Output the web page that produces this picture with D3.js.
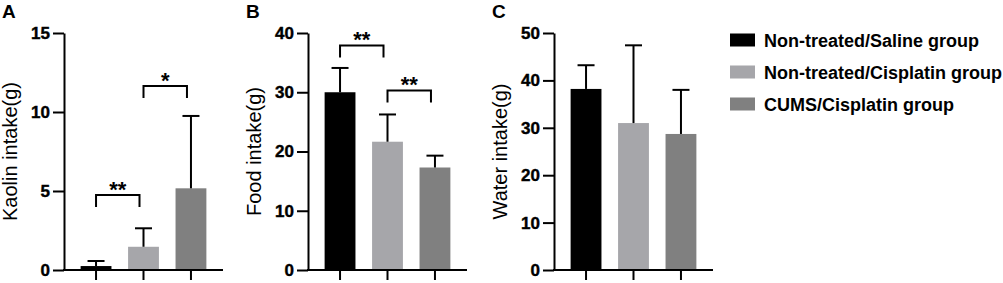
<!DOCTYPE html>
<html>
<head>
<meta charset="utf-8">
<script src="https://cdn.jsdelivr.net/npm/d3@7"></script>
<style>
  body { margin: 0; background: #fff; }
  svg { font-family: "Liberation Sans", Arial, sans-serif; display: block; }
  .yaxis text { font-weight: bold; font-size: 17px; fill: #000; }
</style>
</head>
<body>
<svg width="1003" height="283"></svg>
<script>
var groups = ["Non-treated/Saline group", "Non-treated/Cisplatin group", "CUMS/Cisplatin group"];
var colors = ["#000000", "#a6a6aa", "#808080"];

// panel A
var kaolinMean = [0.25, 1.47, 5.17];
var kaolinSD = [0.32, 1.17, 4.58];
var kaolinTicks = [0, 5, 10, 15];
// panel B
var foodMean = [30.0, 21.65, 17.3];
var foodSD = [4.1, 4.6, 2.0];
var foodTicks = [0, 10, 20, 30, 40];
// panel C
var waterMean = [38.2, 31.0, 28.7];
var waterSD = [5.0, 16.4, 9.3];
var waterTicks = [0, 10, 20, 30, 40, 50];

// significance brackets: [from group, to group, y level, label]
var kaolinSig = [[0, 1, 4.75, "**"], [1, 2, 11.65, "*"]];
var foodSig = [[0, 1, 37.9, "**"], [1, 2, 30.3, "**"]];
var waterSig = [];

var svg = d3.select("svg");
var plotTop = 33, plotBottom = 270, axisW = 159;

var panels = [
  {letter: "A", title: "Kaolin intake(g)", mean: kaolinMean, sd: kaolinSD, ticks: kaolinTicks, sig: kaolinSig, x0: 64},
  {letter: "B", title: "Food intake(g)", mean: foodMean, sd: foodSD, ticks: foodTicks, sig: foodSig, x0: 308},
  {letter: "C", title: "Water intake(g)", mean: waterMean, sd: waterSD, ticks: waterTicks, sig: waterSig, x0: 554}
];

panels.forEach(function(p) {
  var g = svg.append("g");

  var x = d3.scaleBand()
    .domain(groups)
    .range([p.x0, p.x0 + axisW])
    .paddingInner(0.35)
    .paddingOuter(0.35);

  var y = d3.scaleLinear()
    .domain([0, d3.max(p.ticks)])
    .range([plotBottom, plotTop]);

  // bars
  g.selectAll("rect.bar")
    .data(p.mean)
    .enter().append("rect")
    .attr("class", "bar")
    .attr("x", function(d, i) { return x(groups[i]); })
    .attr("width", x.bandwidth())
    .attr("y", function(d) { return y(d); })
    .attr("height", function(d) { return y(0) - y(d); })
    .attr("fill", function(d, i) { return colors[i]; });

  // upper error bars
  var eb = g.selectAll("g.err")
    .data(p.mean)
    .enter().append("g")
    .attr("stroke", "#000")
    .attr("stroke-width", 2);
  eb.append("line")
    .attr("x1", function(d, i) { return x(groups[i]) + x.bandwidth() / 2; })
    .attr("x2", function(d, i) { return x(groups[i]) + x.bandwidth() / 2; })
    .attr("y1", function(d) { return y(d); })
    .attr("y2", function(d, i) { return y(d + p.sd[i]); });
  eb.append("line")
    .attr("x1", function(d, i) { return x(groups[i]) + x.bandwidth() / 2 - 8.5; })
    .attr("x2", function(d, i) { return x(groups[i]) + x.bandwidth() / 2 + 8.5; })
    .attr("y1", function(d, i) { return y(d + p.sd[i]); })
    .attr("y2", function(d, i) { return y(d + p.sd[i]); });

  // y axis
  var yAxis = g.append("g")
    .attr("class", "yaxis")
    .attr("transform", "translate(" + p.x0 + ",0)")
    .call(d3.axisLeft(y).tickValues(p.ticks).tickSize(11).tickSizeOuter(0).tickPadding(3));
  yAxis.selectAll("path, line").attr("stroke", "#000").attr("stroke-width", 2);
  yAxis.selectAll("text").attr("stroke", "#000").attr("stroke-width", 0.4);

  // x axis
  var xAxis = g.append("g")
    .attr("transform", "translate(0," + plotBottom + ")")
    .call(d3.axisBottom(x).tickSize(10).tickSizeOuter(0).tickFormat(""));
  xAxis.selectAll("path, line").attr("stroke", "#000").attr("stroke-width", 2);
  xAxis.select(".domain").attr("d", "M" + (p.x0 - 1) + ",0H" + (p.x0 + axisW));

  // axis title
  g.append("text")
    .attr("transform", "translate(" + (p.x0 - 47) + "," + ((plotTop + plotBottom) / 2) + ")rotate(-90)")
    .attr("text-anchor", "middle")
    .style("font-size", "20px")
    .text(p.title);

  // panel letter
  g.append("text")
    .attr("x", p.x0 - 62)
    .attr("y", 18)
    .style("font-size", "19px")
    .style("font-weight", "bold")
    .text(p.letter);

  // significance brackets
  var sig = g.selectAll("g.sig")
    .data(p.sig)
    .enter().append("g");
  sig.append("path")
    .attr("fill", "none")
    .attr("stroke", "#000")
    .attr("stroke-width", 2)
    .attr("d", function(s) {
      var xa = x(groups[s[0]]) + x.bandwidth() / 2,
          xb = x(groups[s[1]]) + x.bandwidth() / 2 - 4,
          yy = y(s[2]);
      return "M" + xa + "," + (yy + 12) + "V" + yy + "H" + xb + "V" + (yy + 12);
    });
  sig.append("text")
    .attr("x", function(s) { return (x(groups[s[0]]) + x(groups[s[1]]) + x.bandwidth() - 4) / 2; })
    .attr("y", function(s) { return y(s[2]) + 2; })
    .attr("text-anchor", "middle")
    .style("font-size", "22px")
    .style("font-weight", "bold")
    .text(function(s) { return s[3]; });
});

// legend
var legend = svg.append("g")
  .selectAll("g")
  .data(groups)
  .enter().append("g")
  .attr("transform", function(d, i) { return "translate(730," + (40 + i * 32) + ")"; });
legend.append("rect")
  .attr("x", 0)
  .attr("y", -6.5)
  .attr("width", 25)
  .attr("height", 13)
  .attr("fill", function(d, i) { return colors[i]; });
legend.append("text")
  .attr("x", 34)
  .attr("y", 6.5)
  .style("font-size", "18px")
  .style("font-weight", "bold")
  .text(function(d) { return d; });
</script>
</body>
</html>
